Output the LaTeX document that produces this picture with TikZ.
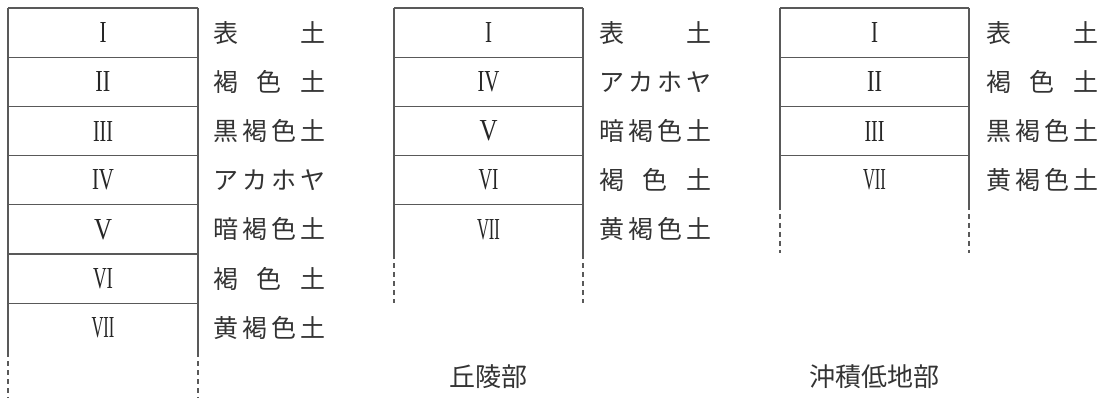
\documentclass[tikz,border=0pt]{standalone}
\usepackage{fontspec}
\usepackage{graphicx}
\newfontfamily\jp{Noto Sans CJK JP}
\newfontfamily\romanfont{Liberation Serif}
\newcommand\rnum[2]{\resizebox{#1pt}{20pt}{\romanfont #2}}
\newcommand\lbl[1]{\hbox to 112pt{#1}}
\begin{document}
\begin{tikzpicture}[x=1pt,y=-1pt,
  frame/.style={line width=1.3pt, draw=black!65},
  dashframe/.style={frame, dash pattern=on 5pt off 4pt},
  num/.style={inner sep=0pt, text=black!85},
  lab/.style={inner sep=0pt, anchor=west, font=\jp\fontsize{25}{25}\selectfont, text=black!80},
  captext/.style={inner sep=0pt, font=\jp\fontsize{26}{26}\selectfont, text=black!80}]
\useasboundingbox (0,0) rectangle (1104,401);
\def\rh{49.2}
% ---------- column 1 ----------
\draw[frame] (8,8) -- (198,8);
\foreach \n/\w/\t [count=\k from 0] in {
  I/7/{表\hfill 土},
  II/15/{褐\hfill 色\hfill 土},
  III/20/{黒\hfill 褐\hfill 色\hfill 土},
  IV/22/{ア\hfill カ\hfill ホ\hfill ヤ},
  V/18/{暗\hfill 褐\hfill 色\hfill 土},
  VI/20/{褐\hfill 色\hfill 土},
  VII/23/{黄\hfill 褐\hfill 色\hfill 土}} {
  \node[num] (a\k) at (103,{8+(\k+0.5)*\rh}) {\rnum{\w}{\n}};
  \node[lab] (al\k) at (213,{8+(\k+0.5)*\rh}) {\lbl{\t}};
}
\foreach \k in {1,...,6} \draw[frame] (8,{8+\k*\rh}) -- (198,{8+\k*\rh});
\draw[frame] (8,8) -- (8,{8+7*\rh}) (198,8) -- (198,{8+7*\rh});
\draw[dashframe] (8,{8+7*\rh}) -- (8,398) (198,{8+7*\rh}) -- (198,398);
% ---------- column 2 ----------
\draw[frame] (394,8) -- (583,8);
\foreach \n/\w/\t [count=\k from 0] in {
  I/7/{表\hfill 土},
  IV/22/{ア\hfill カ\hfill ホ\hfill ヤ},
  V/18/{暗\hfill 褐\hfill 色\hfill 土},
  VI/20/{褐\hfill 色\hfill 土},
  VII/23/{黄\hfill 褐\hfill 色\hfill 土}} {
  \node[num] (b\k) at (488.5,{8+(\k+0.5)*\rh}) {\rnum{\w}{\n}};
  \node[lab] (bl\k) at (599,{8+(\k+0.5)*\rh}) {\lbl{\t}};
}
\foreach \k in {1,...,4} \draw[frame] (394,{8+\k*\rh}) -- (583,{8+\k*\rh});
\draw[frame] (394,8) -- (394,{8+5*\rh}) (583,8) -- (583,{8+5*\rh});
\draw[dashframe] (394,{8+5*\rh}) -- (394,303) (583,{8+5*\rh}) -- (583,303);
\node[captext] (bcap) at (488.5,377) {丘陵部};
% ---------- column 3 ----------
\draw[frame] (780,8) -- (969,8);
\foreach \n/\w/\t [count=\k from 0] in {
  I/7/{表\hfill 土},
  II/15/{褐\hfill 色\hfill 土},
  III/20/{黒\hfill 褐\hfill 色\hfill 土},
  VII/23/{黄\hfill 褐\hfill 色\hfill 土}} {
  \node[num] (c\k) at (874.5,{8+(\k+0.5)*\rh}) {\rnum{\w}{\n}};
  \node[lab] (cl\k) at (986,{8+(\k+0.5)*\rh}) {\lbl{\t}};
}
\foreach \k in {1,...,3} \draw[frame] (780,{8+\k*\rh}) -- (969,{8+\k*\rh});
\draw[frame] (780,8) -- (780,{8+4*\rh}) (969,8) -- (969,{8+4*\rh});
\draw[dashframe] (780,{8+4*\rh}) -- (780,253) (969,{8+4*\rh}) -- (969,253);
\node[captext] (ccap) at (874.5,377) {沖積低地部};
\end{tikzpicture}
\end{document}
